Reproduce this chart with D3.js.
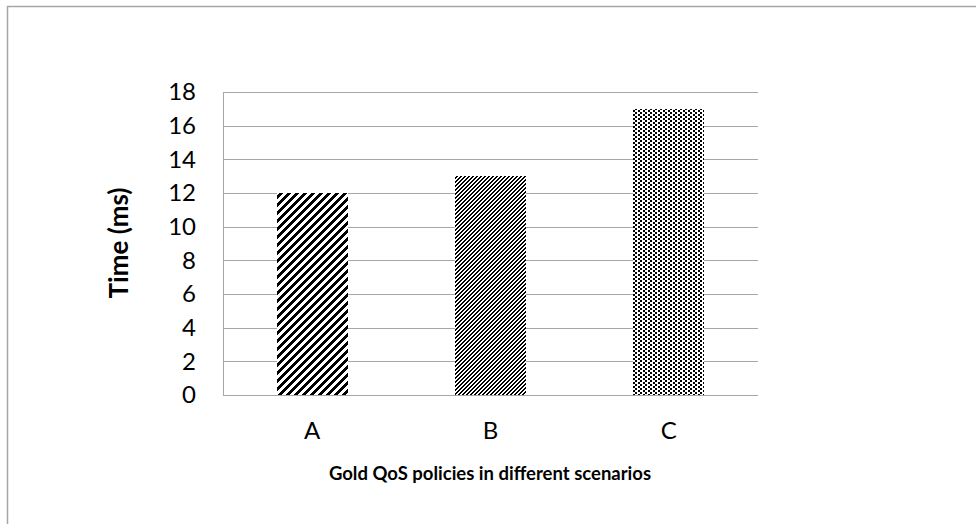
<!DOCTYPE html>
<html><head><meta charset="utf-8">
<script src="https://cdn.jsdelivr.net/npm/d3@7"></script>
<style>body{margin:0;background:#fff}svg{display:block}text{font-family:Lato,"Open Sans",sans-serif;fill:#000}</style>
</head><body>
<script>
const categories = ["A", "B", "C"];
const values = [12, 13, 17];
const yTicks = [0, 2, 4, 6, 8, 10, 12, 14, 16, 18];
const yTitle = "Time (ms)";
const xTitle = "Gold QoS policies in different scenarios";

const W = 976, H = 524;
const m = {left: 223, top: 92, right: 218, bottom: 129};
const svg = d3.select("body").append("svg").attr("width", W).attr("height", H);

// outer frame (extends past viewport on right and bottom)
svg.append("rect").attr("x", 7.5).attr("y", 6.5).attr("width", 1000).attr("height", 600)
  .attr("fill", "none").attr("stroke", "#a6a6a6").attr("stroke-width", 1.5);

const defs = svg.append("defs");
function pixelPattern(id, w, h, test) {
  const p = defs.append("pattern").attr("id", id).attr("patternUnits", "userSpaceOnUse")
    .attr("width", w).attr("height", h);
  p.append("rect").attr("width", w).attr("height", h).attr("fill", "#fff");
  for (let y = 0; y < h; y++) for (let x = 0; x < w; x++)
    if (test(x, y)) p.append("rect").attr("x", x).attr("y", y).attr("width", 1).attr("height", 1)
      .attr("fill", "#000").attr("shape-rendering", "crispEdges");
}
pixelPattern("pA", 8, 8, (x, y) => ((x + y) % 8) < 4);
pixelPattern("pB", 4, 4, (x, y) => ((x + y) % 4) < 2);
pixelPattern("pC", 5, 4, (x, y) => (x < 2 && y < 2) || (x >= 3 && y >= 2));
const fills = ["url(#pA)", "url(#pB)", "url(#pC)"];

const x = d3.scaleBand().domain(categories).range([m.left, W - m.right]).paddingInner(0.6).paddingOuter(0.3);
const y = d3.scaleLinear().domain([0, 18]).range([H - m.bottom, m.top]);

// gridlines
svg.append("g").selectAll("line").data(yTicks.filter(d => d > 0)).join("line")
  .attr("x1", m.left).attr("x2", W - m.right)
  .attr("y1", d => Math.round(y(d)) + 0.5).attr("y2", d => Math.round(y(d)) + 0.5)
  .attr("stroke", "#a6a6a6").attr("stroke-width", 1);

// bars
svg.append("g").selectAll("rect").data(values).join("rect")
  .attr("x", (d, i) => Math.round(x(categories[i])))
  .attr("width", Math.round(x.bandwidth()))
  .attr("y", d => Math.round(y(d)))
  .attr("height", d => Math.round(y(0)) - Math.round(y(d)))
  .attr("fill", (d, i) => fills[i]);

// y axis
const ya = svg.append("g").attr("transform", `translate(${m.left},0)`)
  .call(d3.axisLeft(y).tickValues(yTicks).tickSize(0).tickPadding(27));
ya.select(".domain").remove();
ya.selectAll("text").style("font-size", "24px").style("font-family", "Lato, 'Open Sans', sans-serif");
svg.append("line").attr("x1", m.left + 0.5).attr("x2", m.left + 0.5).attr("y1", m.top).attr("y2", y(0))
  .attr("stroke", "#a6a6a6");
svg.append("line").attr("x1", m.left).attr("x2", W - m.right).attr("y1", Math.round(y(0)) + 0.5).attr("y2", Math.round(y(0)) + 0.5)
  .attr("stroke", "#a6a6a6");

// x axis
const xa = svg.append("g").attr("transform", `translate(0,${y(0)})`)
  .call(d3.axisBottom(x).tickSize(0).tickPadding(27));
xa.select(".domain").remove();
xa.selectAll("text").style("font-size", "24px").style("font-family", "Lato, 'Open Sans', sans-serif");

svg.append("text").attr("transform", "translate(128,243) rotate(-90)").attr("text-anchor", "middle")
  .style("font-size", "26px").style("font-weight", "bold").text(yTitle);
svg.append("text").attr("x", 490).attr("y", 480).attr("text-anchor", "middle")
  .style("font-size", "18.5px").style("font-weight", "bold").text(xTitle);
</script>
</body></html>
